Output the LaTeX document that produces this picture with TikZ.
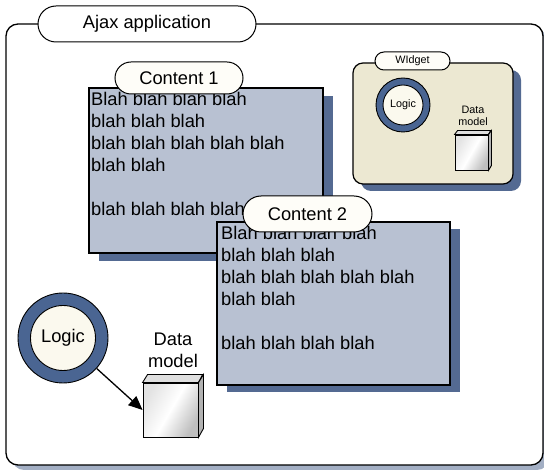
\documentclass[tikz,border=0pt]{standalone}
\usepackage{fontspec}
\setmainfont{Liberation Sans}
\usetikzlibrary{shapes.misc,arrows.meta}
\definecolor{boxfill}{HTML}{B8C1D2}
\definecolor{boxshadow}{HTML}{546A92}
\definecolor{ringblue}{HTML}{4A6592}
\definecolor{widgetfill}{HTML}{ECE8D2}
\definecolor{innerfill}{HTML}{FBF9EE}
\definecolor{frameshadow}{HTML}{A3AFC4}
\definecolor{pillfill}{HTML}{FEFDF8}
\tikzset{
  bigfont/.style={font=\fontsize{18.3}{22}\selectfont},
  smallfont/.style={font=\fontsize{10.8}{12.5}\selectfont},
  pill/.style={rounded rectangle, draw=black, line width=1pt, fill=pillfill, inner sep=0pt},
  contentbox/.style={draw=black, line width=1.2pt, fill=boxfill},
  blocktext/.style={bigfont, align=left, anchor=north west, inner sep=0pt},
  ring/.style={circle, draw=black, line width=0.9pt, fill=ringblue, inner sep=0pt},
  core/.style={circle, draw=black, line width=0.9pt, fill=innerfill, inner sep=0pt},
  cubefront/.style={draw=black, line width=0.9pt, inner sep=0pt,
    top color=gray!22, bottom color=gray!50, middle color=white, shading angle=60},
}
\begin{document}
\begin{tikzpicture}[x=1pt,y=-1pt]
\useasboundingbox (0,0) rectangle (544,470);
% outer frame
\fill[frameshadow, rounded corners=12pt] (12,30) rectangle (549,470);
\draw[line width=1.3pt, fill=white, rounded corners=12pt] (6,24) rectangle (543,465);
\node[pill, fill=white, minimum width=218pt, minimum height=36pt, bigfont] (app) at (147,24) {Ajax application};

% widget
\fill[boxshadow, rounded corners=10pt] (361,70) rectangle (521,191);
\draw[line width=1.2pt, fill=widgetfill, rounded corners=10pt] (353,63) rectangle (513,184);
\node[pill, minimum width=75pt, minimum height=18pt, smallfont] (wpill) at (412.5,61) {WIdget};
\node[ring, minimum size=54pt] (wlogic) at (403,105) {};
\node[core, minimum size=40pt, smallfont] (wcore) at (wlogic.center) {Logic};
\node[smallfont, align=center, inner sep=0pt] (wdm) at (473,116) {Data\\model};
\node[cubefront, minimum width=33pt, minimum height=35pt] (wcube) at (471.5,152.5) {};
\draw[line width=0.9pt, fill=gray!25] (wcube.north west) -- ++(3,-4) -- ++(33,0) -- (wcube.north east) -- cycle;
\draw[line width=0.9pt, fill=gray!60] (wcube.north east) -- ++(3,-4) -- ++(0,35) -- (wcube.south east) -- cycle;

% content 1
\fill[boxshadow] (99,96) rectangle (333,261);
\node[contentbox, minimum width=234pt, minimum height=165pt, inner sep=0pt] (box1) at (206,170.5) {};
\node[blocktext] (text1) at (91,92) {Blah blah blah blah\\blah blah blah\\blah blah blah blah blah\\blah blah\\[22pt]blah blah blah blah};
\node[pill, minimum width=128pt, minimum height=32pt, bigfont] (c1) at (179,78) {Content 1};

% content 2
\fill[boxshadow] (227,229) rectangle (460,392);
\node[contentbox, minimum width=233pt, minimum height=163pt, inner sep=0pt] (box2) at (333.5,303.5) {};
\node[blocktext] (text2) at (221,226) {Blah blah blah blah\\blah blah blah\\blah blah blah blah blah\\blah blah\\[22pt]blah blah blah blah};
\node[pill, minimum width=129pt, minimum height=36pt, bigfont] (c2) at (307.5,214) {Content 2};

% logic and data model
\node[ring, minimum size=90pt] (logic) at (63,338) {};
\node[core, minimum size=65pt, bigfont] (core) at (logic.center) {Logic};
\node[bigfont, align=center, inner sep=0pt] (dm) at (173,350) {Data\\model};
\node[cubefront, minimum width=55pt, minimum height=54pt] (cube) at (170.5,410) {};
\draw[line width=0.9pt, fill=gray!25] (cube.north west) -- ++(5,-8) -- ++(55,0) -- (cube.north east) -- cycle;
\draw[line width=0.9pt, fill=gray!60] (cube.north east) -- ++(5,-8) -- ++(0,54) -- (cube.south east) -- cycle;
\draw[line width=1.3pt, -{Triangle[length=14pt,width=12pt]}] (logic) -- (cube.west);
\end{tikzpicture}
\end{document}
